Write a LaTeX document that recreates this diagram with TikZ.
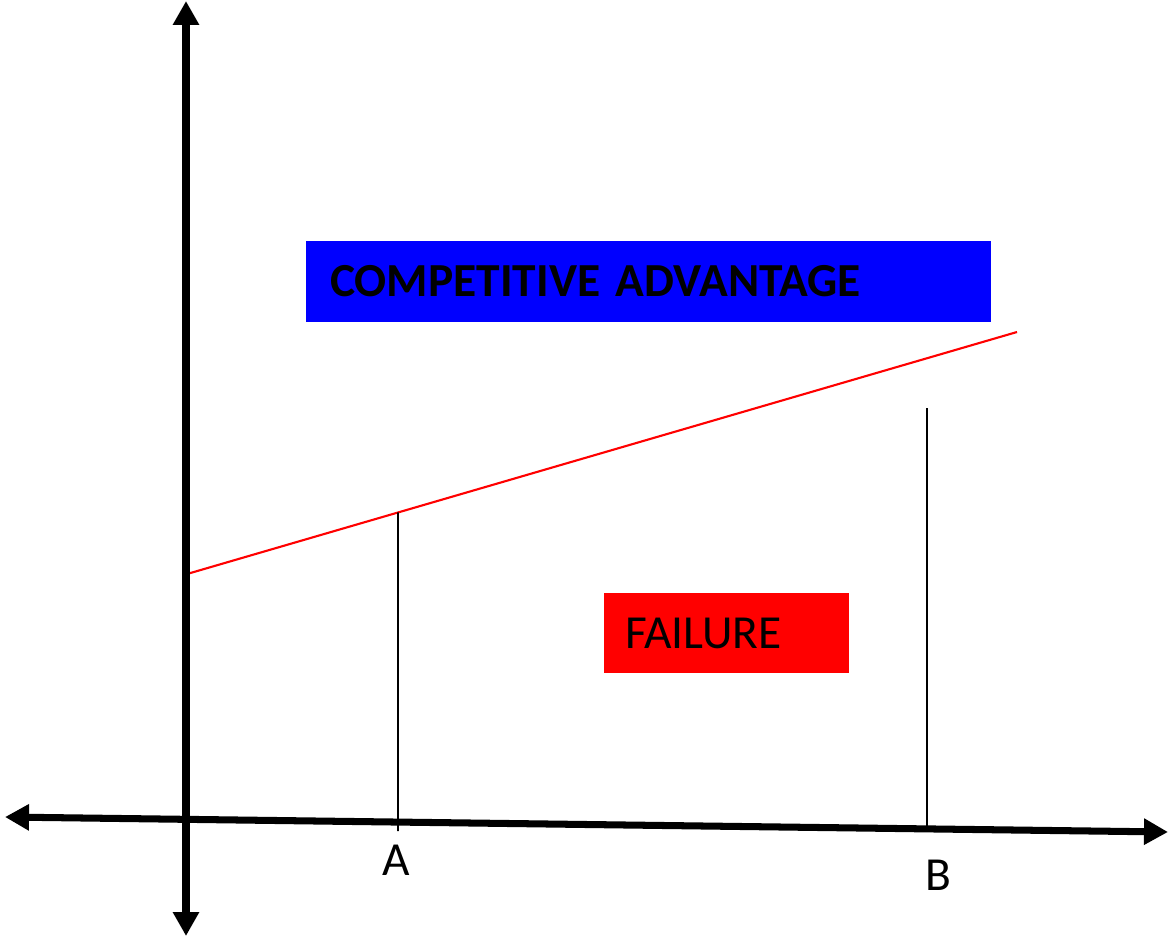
\documentclass[tikz,border=0pt]{standalone}
\usepackage{fontspec}
\setmainfont{Carlito}
\usetikzlibrary{arrows.meta,calc}
\tikzset{
  axis/.style={line width=4pt, {Triangle[width=0.5cm,length=0.48cm]}-{Triangle[width=0.5cm,length=0.48cm]}},
  zonebox/.style={inner ysep=0pt, minimum height=1.61cm, align=left, font=\fontsize{27}{30}\selectfont},
  ticklabel/.style={font=\fontsize{27}{30}\selectfont}
}
\begin{document}
\begin{tikzpicture}[x=0.02cm, y=-0.02cm]
    \useasboundingbox (0,0) rectangle (1171,937);
    % Coordinate
    \coordinate (Ytop) at (186,1);
    \coordinate (Ybot) at (186,936);
    \coordinate (Xleft) at (5,817);
    \coordinate (Xright) at (1168,832);
    \coordinate (L0) at (187,574);
    \coordinate (L1) at (1017,332);
    \coordinate (Atop) at ($(L0)!0.2542!(L1)$);
    \coordinate (Abot) at (398,831);
    \coordinate (Btop) at (927,408);
    \coordinate (Bbot) at (927,826);
    % Boxes
    \node [zonebox, fill=blue, font=\bfseries\fontsize{27}{30}\selectfont, text width=12.74cm, inner xsep=0.48cm] (adv) at (648.5,281.5) {COMPETITIVE ADVANTAGE};
    \node [zonebox, fill=red, text width=4.06cm, inner xsep=0.42cm] (fail) at (726.5,633) {FAILURE};
    % Linee
    \draw [red, line width=1.2pt] (L0) -- (L1); % threshold line
    \draw [line width=1pt] (Atop) -- (Abot);
    \draw [line width=1pt] (Btop) -- (Bbot);
    \draw [axis] (Xleft) -- (Xright); % asse x
    \draw [axis] (Ybot) -- (Ytop); % asse y
    % Writing space
    \node [ticklabel] (labA) at (396,860) {A};
    \node [ticklabel] (labB) at (938,875) {B};
\end{tikzpicture}
\end{document}
